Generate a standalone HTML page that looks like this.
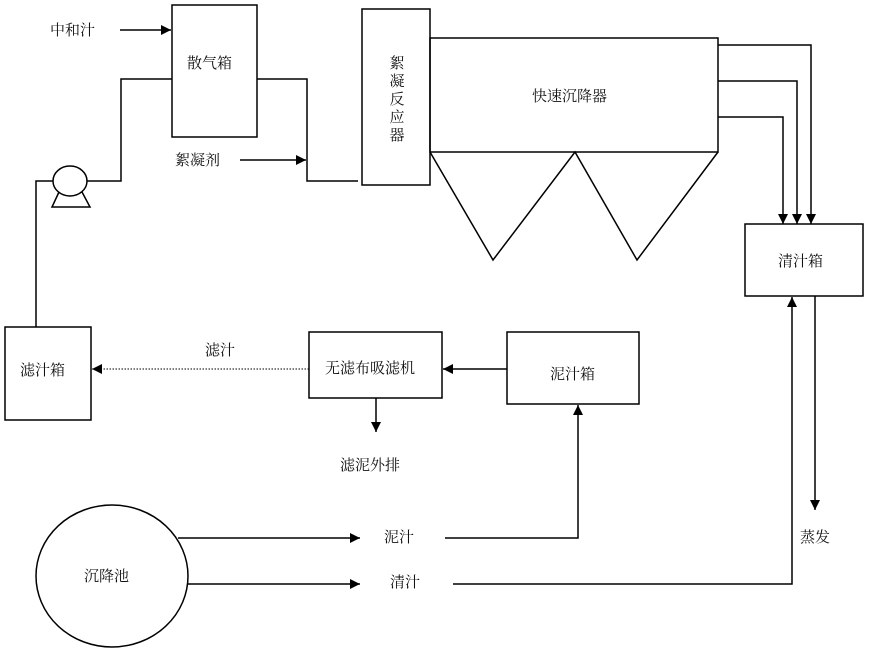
<!DOCTYPE html>
<html><head><meta charset="utf-8"><style>
body{margin:0;background:#fff;}
svg text{font-family:"Liberation Serif","Noto Serif CJK SC","Noto Sans CJK SC",serif;font-size:15px;fill:#111;}
</style></head><body>
<svg width="872" height="651" viewBox="0 0 872 651" xmlns="http://www.w3.org/2000/svg">
<defs><marker id="a" viewBox="0 0 10 10" refX="10" refY="5" markerWidth="10" markerHeight="10" markerUnits="userSpaceOnUse" orient="auto"><path d="M0,0L10,5L0,10z" fill="#000"/></marker></defs>
<g fill="none" stroke="#000" stroke-width="1.5">
<rect x="172" y="5" width="85" height="132"/>
<rect x="362" y="9" width="68" height="176"/>
<rect x="430" y="38" width="288" height="114"/>
<path d="M430,152L493,260L575,152L637,260L718,152"/>
<rect x="745" y="224" width="118" height="72"/>
<rect x="5" y="327" width="86" height="93"/>
<rect x="309" y="332" width="133" height="66"/>
<rect x="507" y="332" width="132" height="72"/>
<ellipse cx="112" cy="576" rx="76" ry="71"/>
<ellipse cx="70" cy="181" rx="17" ry="15"/>
<path d="M59,192L52,207H90L82,192"/>
<path d="M120,30H171" marker-end="url(#a)"/>
<path d="M172,79H121V181H87"/>
<path d="M53,181H36V327"/>
<path d="M257,79H307V181H358"/>
<path d="M240,160H306" marker-end="url(#a)"/>
<path d="M718,45H811V224" marker-end="url(#a)"/>
<path d="M718,81H797V224" marker-end="url(#a)"/>
<path d="M718,117H783V224" marker-end="url(#a)"/>
<path d="M815,296V510" marker-end="url(#a)"/>
<path d="M507,369H443" marker-end="url(#a)"/>
<path d="M309,369H92" stroke-dasharray="1.5,1.5" stroke-width="1" marker-end="url(#a)"/>
<path d="M376,398V432" marker-end="url(#a)"/>
<path d="M178,538H360" marker-end="url(#a)"/>
<path d="M445,538H578V405" marker-end="url(#a)"/>
<path d="M188,584H360" marker-end="url(#a)"/>
<path d="M453,584H792V297" marker-end="url(#a)"/>
</g>
<text x="50" y="35">中和汁</text>
<text x="187" y="68">散气箱</text>
<text x="175" y="165">絮凝剂</text>
<g text-anchor="middle"><text x="397" y="68">絮</text><text x="397" y="86">凝</text><text x="397" y="104">反</text><text x="397" y="122">应</text><text x="397" y="140">器</text></g>
<text x="532" y="101">快速沉降器</text>
<text x="778" y="266">清汁箱</text>
<text x="20" y="375">滤汁箱</text>
<text x="205" y="355">滤汁</text>
<text x="325" y="373">无滤布吸滤机</text>
<text x="550" y="379">泥汁箱</text>
<text x="340" y="470">滤泥外排</text>
<text x="384" y="542">泥汁</text>
<text x="390" y="587">清汁</text>
<text x="800" y="542">蒸发</text>
<text x="84" y="581">沉降池</text>
</svg>
</body></html>
